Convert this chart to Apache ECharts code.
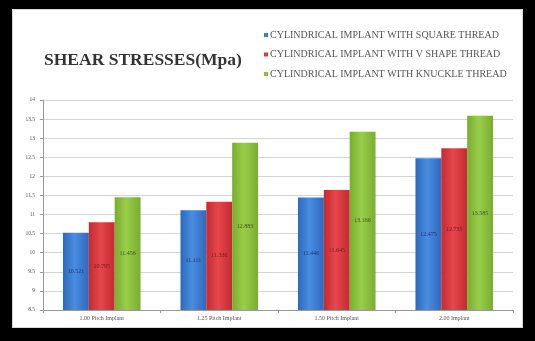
<!DOCTYPE html>
<html>
<head>
<meta charset="utf-8" />
<title>Shear stresses</title>
<script src="https://cdn.jsdelivr.net/npm/echarts@6/dist/echarts.min.js"></script>
<style>
  html, body { margin: 0; padding: 0; background: #000; }
  #chart { position: absolute; left: 12px; top: 9px; width: 511px; height: 319px;
           background: #fff; box-sizing: border-box; border: 1px solid #d6d6d6; }
</style>
</head>
<body>
<div id="chart"></div>
<script>
// categories (x axis)
var categories = ['1.00 Pitch Implant', '1.25 Pitch Implant', '1.50 Pitch Implant', '2.00 Implant'];
// series values, Mpa
var squareThread = [10.521, 11.111, 11.446, 12.475];
var vShapeThread = [10.795, 11.336, 11.645, 12.735];
var knuckleThread = [11.456, 12.883, 13.166, 13.585];
// y axis range
var yMin = 8.5, yMax = 14, yStep = 0.5;

var names = [
  'CYLINDRICAL IMPLANT WITH SQUARE THREAD',
  'CYLINDRICAL IMPLANT WITH V SHAPE THREAD',
  'CYLINDRICAL IMPLANT WITH KNUCKLE THREAD'
];

function grad(edge, mid) {
  return new echarts.graphic.LinearGradient(0, 0, 1, 0, [
    { offset: 0, color: edge },
    { offset: 0.45, color: mid },
    { offset: 1, color: edge }
  ]);
}

function bar(name, data, edge, mid, labelColor) {
  return {
    name: name,
    type: 'bar',
    data: data,
    barGap: '0%',
    barCategoryGap: '34%',
    itemStyle: { color: grad(edge, mid) },
    label: {
      show: true,
      position: 'inside',
      color: labelColor,
      fontFamily: 'Liberation Serif',
      fontSize: 6,
      formatter: function (p) { return p.value.toFixed(3); }
    }
  };
}

var chart = echarts.init(document.getElementById('chart'));
chart.setOption({
  animation: false,
  title: {
    text: 'SHEAR STRESSES(Mpa)',
    left: 26,
    top: 36,
    textStyle: { fontFamily: 'Liberation Serif', fontWeight: 'bold', fontSize: 17.5, color: '#333' }
  },
  legend: {
    orient: 'vertical',
    left: 246,
    top: 15,
    itemWidth: 4,
    itemHeight: 4,
    itemGap: 9.5,
    icon: 'rect',
    textStyle: { fontFamily: 'Liberation Serif', fontSize: 10, color: '#555', padding: [0, 0, 0, -3] },
    data: names
  },
  grid: { left: 30, right: 9, top: 90, bottom: 17 },
  xAxis: {
    type: 'category',
    data: categories,
    axisLine: { lineStyle: { color: '#999' } },
    axisTick: { show: true, length: 3, lineStyle: { color: '#999' } },
    axisLabel: { fontFamily: 'Liberation Serif', fontSize: 6, color: '#555', margin: 5 }
  },
  yAxis: {
    type: 'value',
    min: yMin,
    max: yMax,
    interval: yStep,
    axisLine: { show: true, lineStyle: { color: '#999' } },
    axisTick: { show: true, length: 3, lineStyle: { color: '#999' } },
    axisLabel: { fontFamily: 'Liberation Serif', fontSize: 5.5, color: '#555', margin: 8 },
    splitLine: { lineStyle: { color: '#d4d4d4' } }
  },
  series: [
    bar(names[0], squareThread, '#2d69bd', '#4a8de0', '#1b3670'),
    bar(names[1], vShapeThread, '#c42a30', '#e5474c', '#7a1418'),
    bar(names[2], knuckleThread, '#79ad2e', '#9acd4c', '#3a5510')
  ]
});
window.onresize = function () { chart.resize(); };
</script>
</body>
</html>
